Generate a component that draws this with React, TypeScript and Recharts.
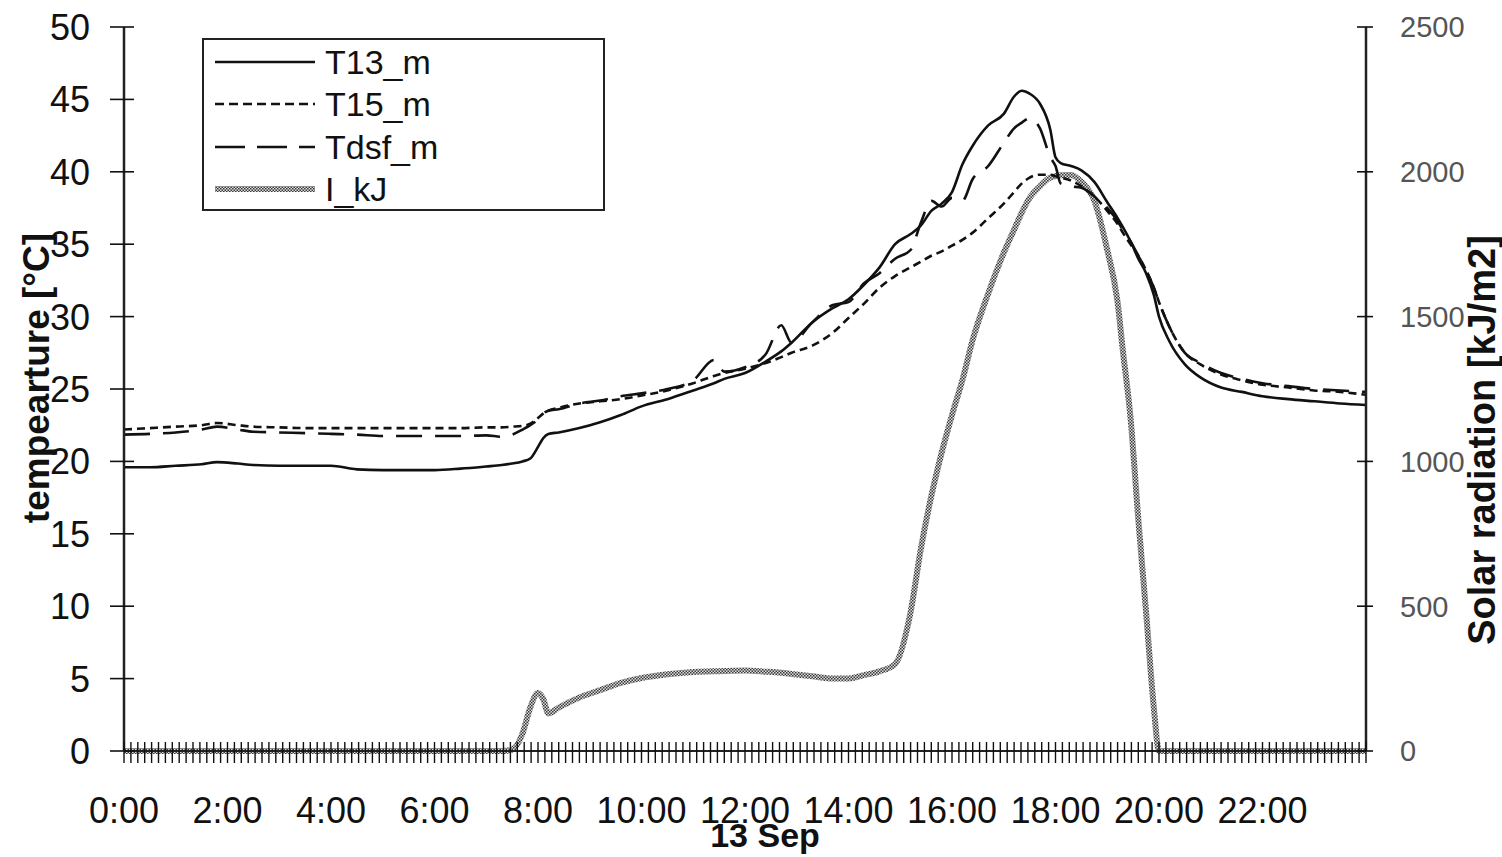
import React from 'react';
import { LineChart, Line, XAxis, YAxis, Legend, Label } from 'recharts';

const hours = [
  0, 0.5, 1, 1.5, 1.8, 2.2, 2.5, 3, 3.5, 4, 4.5, 5, 5.5, 6, 6.5, 7, 7.3, 7.5, 7.7, 7.85,
  8.0, 8.1, 8.2, 8.4, 8.8, 9.2, 9.6, 10.0, 10.5, 11.0, 11.4, 11.6, 12.0, 12.4, 12.7, 12.9, 13.3, 13.7, 14.0, 14.3,
  14.6, 14.9, 15.2, 15.4, 15.6, 15.8, 16.0, 16.2, 16.4, 16.7, 17.0, 17.2, 17.35, 17.5, 17.7, 17.9, 18.0, 18.1, 18.3, 18.5,
  18.75, 19.0, 19.2, 19.3, 19.45, 19.6, 19.75, 19.9, 20.0, 20.2, 20.5, 20.8, 21.2, 21.6, 22.0, 22.5, 23.0, 23.5, 24.0,
];

const t13 = [
  19.6, 19.6, 19.7, 19.8, 19.95, 19.85, 19.75, 19.7, 19.7, 19.7, 19.45, 19.4, 19.4, 19.4, 19.5, 19.65, 19.75, 19.85, 20.0, 20.2,
  21.0, 21.6, 21.9, 22.0, 22.3, 22.7, 23.2, 23.8, 24.3, 24.9, 25.4, 25.7, 26.1, 26.9, 27.6, 28.2, 29.6, 30.6, 31.2, 32.2,
  33.4, 35.0, 35.7, 36.3, 37.3, 37.8, 38.6, 40.5, 41.8, 43.2, 44.0, 45.2, 45.6, 45.4, 44.7, 42.9, 41.0, 40.6, 40.4, 40.1,
  39.3, 37.9, 36.8, 36.2, 35.2, 34.0, 33.0, 31.5, 30.0, 28.3, 26.7, 25.8, 25.1, 24.8, 24.5, 24.3, 24.15, 24.0, 23.9,
];

const t15 = [
  22.2, 22.3, 22.4, 22.5, 22.65, 22.5, 22.4, 22.35, 22.3, 22.3, 22.3, 22.3, 22.3, 22.3, 22.3, 22.35, 22.35, 22.4, 22.45, 22.6,
  23.0, 23.3, 23.5, 23.7, 24.0, 24.15, 24.3, 24.55, 24.9, 25.4, 25.9, 26.1, 26.4, 26.8, 27.2, 27.5, 28.0, 28.9, 29.9, 30.9,
  32.0, 32.8, 33.4, 33.8, 34.2, 34.5, 34.9, 35.3, 35.8, 36.8, 37.8, 38.6, 39.2, 39.6, 39.8, 39.8, 39.7, 39.6, 39.4, 39.0,
  38.3, 37.3, 36.4, 35.8, 35.0, 34.2, 33.2, 32.0, 31.0, 29.3, 27.5, 26.7, 26.0, 25.6, 25.3, 25.1, 24.9, 24.8, 24.6,
];

const tdsf = [
  21.85, 21.9, 22.0, 22.2, 22.4, 22.2, 22.05, 22.0, 21.95, 21.9, 21.85, 21.75, 21.75, 21.75, 21.75, 21.8, 21.7, 21.85, 22.2, 22.5,
  22.9, 23.3, 23.5, 23.6, 24.0, 24.2, 24.5, 24.7, 25.0, 25.6, 27.0, 26.2, 26.5, 27.4, 29.4, 28.2, 29.6, 30.8, 31.0, 32.3,
  33.0, 34.0, 34.6, 36.5, 38.0, 37.6, 38.2, 38.0, 39.5, 40.4, 42.0, 43.0, 43.4, 43.7, 43.0, 41.0, 40.4, 39.2, 39.0, 38.9,
  38.3, 37.5, 36.6, 36.0, 35.2, 34.2, 33.2, 32.0, 31.0, 29.3, 27.5, 26.8, 26.1, 25.7, 25.4, 25.2, 25.0, 24.9, 24.8,
];

const solar = [
  0, 0, 0, 0, 0, 0, 0, 0, 0, 0, 0, 0, 0, 0, 0, 0, 0, 5, 60, 150,
  200, 180, 130, 150, 185, 210, 235, 252, 265, 273, 275, 276, 278, 274, 270, 266, 258, 250, 250, 262,
  275, 300, 480, 700, 880, 1030, 1160, 1280, 1420, 1580, 1720, 1800, 1860, 1910, 1950, 1980, 1985, 1988, 1989, 1965,
  1900, 1730, 1550, 1385, 1150, 800, 480, 150, 0, 0, 0, 0, 0, 0, 0, 0, 0, 0, 0,
];

const xLabelHours = [0, 2, 4, 6, 8, 10, 12, 14, 16, 18, 20, 22];
const xTickLabels = ['0:00', '2:00', '4:00', '6:00', '8:00', '10:00', '12:00', '14:00', '16:00', '18:00', '20:00', '22:00'];
const leftTicks = [0, 5, 10, 15, 20, 25, 30, 35, 40, 45, 50];
const rightTicks = [0, 500, 1000, 1500, 2000, 2500];
const minorTickHours = Array.from({ length: 181 }, (_, i) => (i * 24) / 180);

const seriesNames = ['T13_m', 'T15_m', 'Tdsf_m', 'I_kJ'];

const data = hours.map((h, i) => ({
  h,
  T13_m: t13[i],
  T15_m: t15[i],
  Tdsf_m: tdsf[i],
  I_kJ: solar[i],
}));

const FONT = '"Liberation Sans", Arial, Helvetica, sans-serif';
const INK = '#111';

const XTick = (props: any) => {
  const { x, y, payload } = props;
  const v = payload.value;
  const idx = xLabelHours.findIndex((h) => Math.abs(h - v) < 1e-6);
  return (
    <g>
      <line x1={x} x2={x} y1={y - 9} y2={y + 12} stroke={INK} strokeWidth={1.4} />
      {idx >= 0 && (
        <text x={x} y={y + 72} textAnchor="middle" fontSize={36} fontFamily={FONT} fill={INK}>
          {xTickLabels[idx]}
        </text>
      )}
    </g>
  );
};

const LeftTick = (props: any) => {
  const { x, y, payload } = props;
  return (
    <g>
      <line x1={x - 14} x2={x + 10} y1={y} y2={y} stroke={INK} strokeWidth={1.6} />
      <text x={x - 34} y={y} dy="0.36em" textAnchor="end" fontSize={36} fontFamily={FONT} fill={INK}>
        {payload.value}
      </text>
    </g>
  );
};

const RightTick = (props: any) => {
  const { x, y, payload } = props;
  return (
    <g>
      <line x1={x - 9} x2={x + 7} y1={y} y2={y} stroke={INK} strokeWidth={1.6} />
      <text x={x + 34} y={y} dy="0.36em" textAnchor="start" fontSize={29} fontFamily={FONT} fill="#555">
        {payload.value}
      </text>
    </g>
  );
};

const Title = (props: any) => {
  const { viewBox, value, ox, oy, rotate } = props;
  const cx = viewBox.x + ox;
  const cy = viewBox.y + oy;
  return (
    <text
      transform={`translate(${cx},${cy})${rotate ? ' rotate(-90)' : ''}`}
      textAnchor="middle"
      dominantBaseline="central"
      fontSize={props.size}
      fontWeight="bold"
      fontFamily={FONT}
      fill={INK}
    >
      {value}
    </text>
  );
};

const LegendBox = () => {
  const rows = [24, 66, 109, 151];
  return (
    <svg width={403} height={173} style={{ display: 'block' }}>
      <defs>
        <pattern id="chkLegend" width="3" height="3" patternUnits="userSpaceOnUse">
          <rect width="3" height="3" fill="#dcdcdc" />
          <rect width="1.5" height="1.5" fill="#3a3a3a" />
          <rect x="1.5" y="1.5" width="1.5" height="1.5" fill="#3a3a3a" />
        </pattern>
      </defs>
      <rect x={1} y={1} width={401} height={171} fill="#fff" stroke="#222" strokeWidth={2} />
      {seriesNames.map((name, i) => {
        const y = rows[i];
        let line;
        if (i === 0) line = <line x1={13} x2={113} y1={y} y2={y} stroke={INK} strokeWidth={2.6} />;
        else if (i === 1)
          line = <line x1={13} x2={113} y1={y} y2={y} stroke={INK} strokeWidth={2.6} strokeDasharray="9 5" />;
        else if (i === 2)
          line = <line x1={13} x2={113} y1={y} y2={y} stroke={INK} strokeWidth={2.6} strokeDasharray="30 12" />;
        else line = <rect x={13} y={y - 3} width={100} height={6} fill="url(#chkLegend)" />;
        return (
          <g key={name}>
            {line}
            <text x={123} y={y} dy="0.36em" fontSize={34} fontFamily={FONT} fill={INK}>
              {name}
            </text>
          </g>
        );
      })}
    </svg>
  );
};

export default function App() {
  return (
    <div style={{ position: 'absolute', left: 0, top: 0, width: 1502, height: 857, background: '#fff', fontFamily: FONT }}>
      <LineChart width={1502} height={857} data={data} margin={{ top: 27, right: 0, bottom: 0, left: 0 }}>
        <defs>
          <pattern id="chk" width="3" height="3" patternUnits="userSpaceOnUse">
            <rect width="3" height="3" fill="#dcdcdc" />
            <rect width="1.5" height="1.5" fill="#3a3a3a" />
            <rect x="1.5" y="1.5" width="1.5" height="1.5" fill="#3a3a3a" />
          </pattern>
        </defs>
        <XAxis
          dataKey="h"
          type="number"
          domain={[0, 24]}
          ticks={minorTickHours}
          interval={0}
          tick={<XTick />}
          tickLine={false}
          tickSize={0}
          tickMargin={0}
          height={106}
          axisLine={{ stroke: '#222', strokeWidth: 2 }}
        >
          <Label content={<Title value="13 Sep" ox={641} oy={84} size={34} />} />
        </XAxis>
        <YAxis
          yAxisId="left"
          domain={[0, 50]}
          ticks={leftTicks}
          interval={0}
          width={124}
          tick={<LeftTick />}
          tickLine={false}
          tickSize={0}
          tickMargin={0}
          axisLine={{ stroke: '#222', strokeWidth: 2.5 }}
        >
          <Label content={<Title value="tempearture [°C]" ox={36} oy={351} size={37} rotate />} />
        </YAxis>
        <YAxis
          yAxisId="right"
          orientation="right"
          domain={[0, 2500]}
          ticks={rightTicks}
          interval={0}
          width={136}
          tick={<RightTick />}
          tickLine={false}
          tickSize={0}
          tickMargin={0}
          axisLine={{ stroke: '#222', strokeWidth: 2.5 }}
        >
          <Label content={<Title value="Solar radiation [kJ/m2]" ox={116} oy={413} size={38} rotate />} />
        </YAxis>
        <Legend
          verticalAlign="middle"
          align="center"
          layout="vertical"
          wrapperStyle={{ left: 202, top: 38, width: 403, height: 173 }}
          content={() => <LegendBox />}
        />
        <Line
          yAxisId="right"
          type="monotone"
          dataKey="I_kJ"
          stroke="url(#chk)"
          strokeWidth={6}
          dot={false}
          isAnimationActive={false}
        />
        <Line
          yAxisId="left"
          type="monotone"
          dataKey="T15_m"
          stroke={INK}
          strokeWidth={2.6}
          strokeDasharray="8 5"
          dot={false}
          isAnimationActive={false}
        />
        <Line
          yAxisId="left"
          type="monotone"
          dataKey="Tdsf_m"
          stroke={INK}
          strokeWidth={2.6}
          strokeDasharray="26 13"
          dot={false}
          isAnimationActive={false}
        />
        <Line
          yAxisId="left"
          type="monotone"
          dataKey="T13_m"
          stroke={INK}
          strokeWidth={2.6}
          dot={false}
          isAnimationActive={false}
        />
      </LineChart>
    </div>
  );
}
